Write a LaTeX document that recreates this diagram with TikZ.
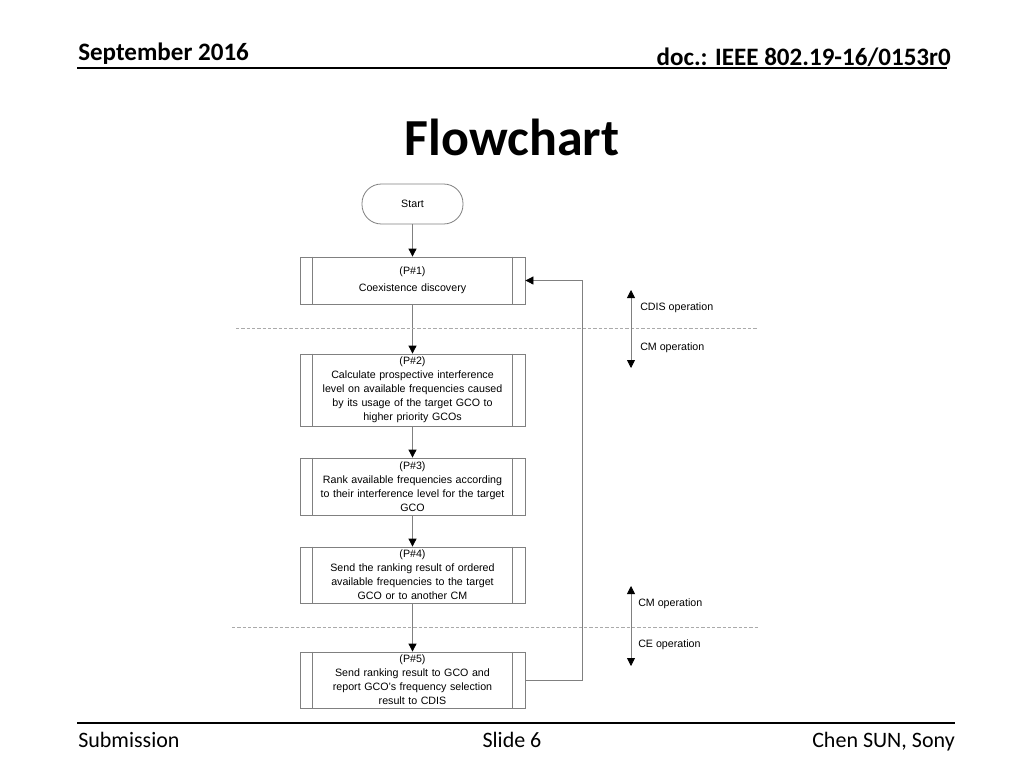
\documentclass[tikz,border=0pt]{standalone}
\usepackage{fontspec}
\setmainfont{Liberation Sans}
\newfontfamily\slidefont{Carlito}
\usetikzlibrary{positioning, arrows.meta}

\definecolor{boxgray}{RGB}{128,128,128}
\definecolor{dashgray}{RGB}{170,170,170}

\tikzset{
  procbox/.style={draw=boxgray, line width=0.6pt, minimum width=168.75pt,
                  text width=160pt, align=center, inner sep=0pt,
                  font=\fontsize{8}{10.5}\selectfont},
  termbox/.style={draw=boxgray, line width=0.6pt, rounded corners=14.5pt,
                  minimum width=75.75pt, minimum height=30pt,
                  font=\fontsize{8}{10.5}\selectfont},
  flow/.style={draw=boxgray, line width=0.6pt, -{Triangle[length=6pt, width=6pt, color=black]}},
  span/.style={draw=boxgray, line width=0.6pt,
               {Triangle[length=6pt, width=6pt, color=black]}-{Triangle[length=6pt, width=6pt, color=black]}},
  sep/.style={draw=dashgray, line width=0.6pt, dash pattern=on 2.5pt off 1.5pt},
  oplabel/.style={anchor=west, inner sep=0pt, font=\fontsize{8}{10}\selectfont}
}

\begin{document}
\begin{tikzpicture}[x=0.75pt, y=-0.75pt]
  \useasboundingbox (0,0) rectangle (1024,768);

  % slide header and footer
  \node[anchor=base west, inner sep=0pt, font=\slidefont\bfseries\fontsize{18.8}{20}\selectfont] (date) at (78,60) {September 2016};
  \node[anchor=base east, inner sep=0pt, font=\slidefont\bfseries\fontsize{18.8}{20}\selectfont] (doc) at (951,65) {doc.: IEEE 802.19-16/0153r0};
  \draw[line width=1.2pt] (77,68) -- (947,68);
  \node[anchor=base, inner sep=0pt, font=\slidefont\bfseries\fontsize{39}{44}\selectfont] (title) at (512,155) {Flowchart};
  \draw[line width=1.2pt] (77,723) -- (955,723);
  \node[anchor=base west, inner sep=0pt, font=\slidefont\fontsize{16.5}{18}\selectfont] (sub) at (78,747) {Submission};
  \node[anchor=base, inner sep=0pt, font=\slidefont\fontsize{16.5}{18}\selectfont] (slide) at (512,747) {Slide 6};
  \node[anchor=base east, inner sep=0pt, font=\slidefont\fontsize{16.5}{18}\selectfont] (author) at (955,747) {Chen SUN, Sony};

  % flowchart
  \node[termbox] (start) at (412.5,204) {Start};
  \node[procbox, minimum height=35.25pt] (p1) at (412.5,280.5) {(P\#1)\\[2pt]Coexistence discovery};
  \node[procbox, minimum height=54pt] (p2) at (412.5,390) {(P\#2)\\Calculate prospective interference\\level on available frequencies caused\\by its usage of the target GCO to\\higher priority GCOs};
  \node[procbox, minimum height=42.75pt] (p3) at (412.5,486.5) {(P\#3)\\Rank available frequencies according\\to their interference level for the target\\GCO};
  \node[procbox, minimum height=42pt] (p4) at (412.5,575) {(P\#4)\\Send the ranking result of ordered\\available frequencies to the target\\GCO or to another CM};
  \node[procbox, minimum height=42pt] (p5) at (412.5,680) {(P\#5)\\Send ranking result to GCO and\\report GCO's frequency selection\\result to CDIS};

  \foreach \p in {p1,p2,p3,p4,p5} {
    \draw[boxgray, line width=0.6pt] ([xshift=9.75pt]\p.north west) -- ([xshift=9.75pt]\p.south west);
    \draw[boxgray, line width=0.6pt] ([xshift=-9.75pt]\p.north east) -- ([xshift=-9.75pt]\p.south east);
  }

  \draw[flow] (start) -- (p1);
  \draw[flow] (p1) -- (p2);
  \draw[flow] (p2) -- (p3);
  \draw[flow] (p3) -- (p4);
  \draw[flow] (p4) -- (p5);
  \draw[flow] (p5.east) -- ++(57,0) |- (p1.east);

  % operation boundaries
  \draw[sep] (236,328) -- (758,328);
  \draw[sep] (232,627) -- (758,627);
  \coordinate (cdis top) at (631,290);
  \coordinate (cm bottom) at (631,368);
  \coordinate (cm top) at (631,586);
  \coordinate (ce bottom) at (631,666);
  \draw[span] (cdis top) -- (cm bottom);
  \draw[span] (cm top) -- (ce bottom);
  \node[oplabel] (cdis) at (640,308) {CDIS operation};
  \node[oplabel] (cm1) at (640,348) {CM operation};
  \node[oplabel] (cm2) at (638,604) {CM operation};
  \node[oplabel] (ce) at (638,645) {CE operation};
\end{tikzpicture}
\end{document}
